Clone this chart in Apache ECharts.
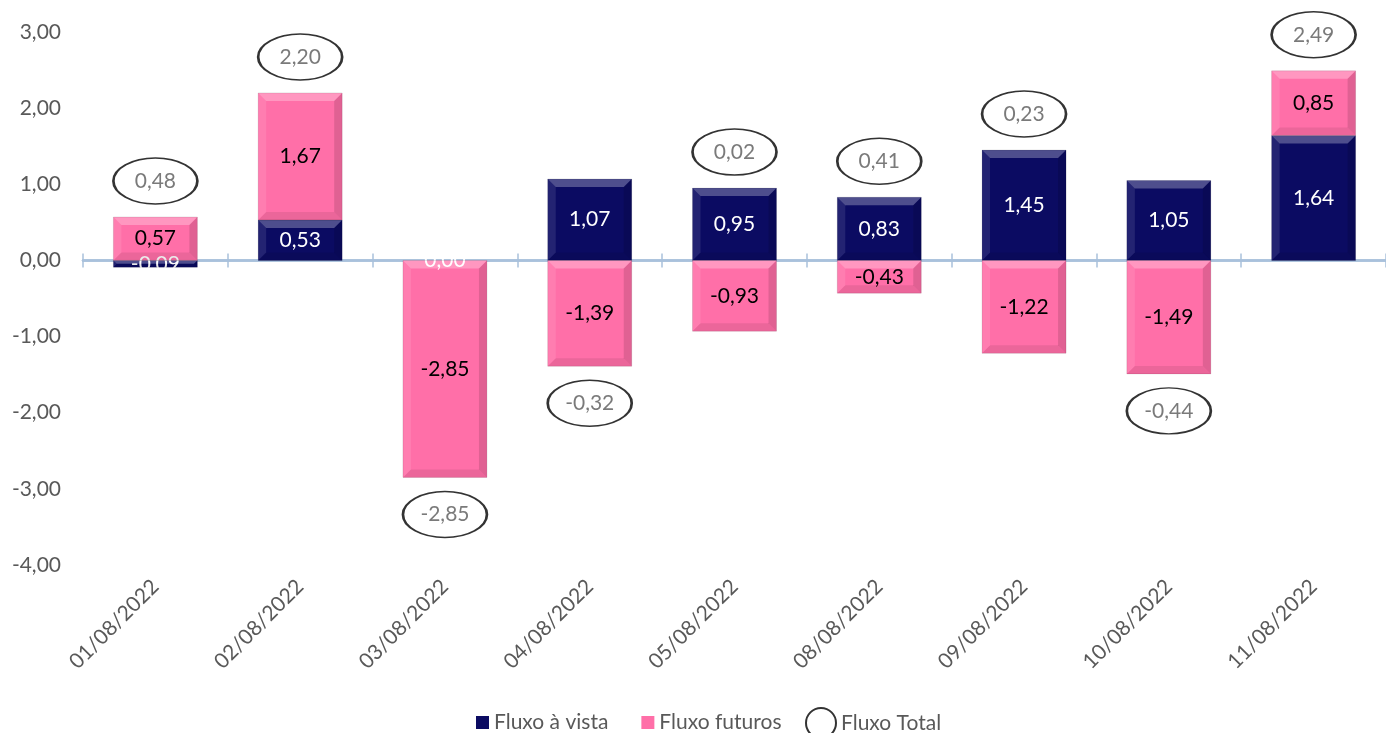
<!DOCTYPE html>
<html>
<head>
<meta charset="utf-8">
<script src="https://cdn.jsdelivr.net/npm/echarts@6/dist/echarts.min.js"></script>
<style>html,body{margin:0;padding:0;background:#fff}#c{width:1386px;height:733px}</style>
</head>
<body>
<div id="c"></div>
<script>
const categories = ['01/08/2022','02/08/2022','03/08/2022','04/08/2022','05/08/2022','08/08/2022','09/08/2022','10/08/2022','11/08/2022'];
const fluxoVista = [-0.09, 0.53, 0.00, 1.07, 0.95, 0.83, 1.45, 1.05, 1.64];
const fluxoFuturos = [0.57, 1.67, -2.85, -1.39, -0.93, -0.43, -1.22, -1.49, 0.85];
const fluxoTotal = [0.48, 2.20, -2.85, -0.32, 0.02, 0.41, 0.23, -0.44, 2.49];
const yTicks = {min: -4, max: 3, interval: 1};

const fmt = v => Number(v).toFixed(2).replace('.', ',');
const FONT = 'Lato';
const GREY = '#595959';
const BAR_W = 84;
const AXIS_BLUE = '#A9C1DC';

// anchor total labels at the end of the stack in the direction of the total
const totalData = fluxoTotal.map((t, i) => {
  const vals = [fluxoVista[i], fluxoFuturos[i]];
  const pos = vals.filter(v => v > 0).reduce((a, b) => a + b, 0);
  const neg = vals.filter(v => v < 0).reduce((a, b) => a + b, 0);
  const up = t >= 0;
  return { value: up ? pos : neg, total: t, symbolOffset: [0, up ? -36 : 37] };
});

// segments (category index, start, end) for bevel overlay, stacked same-sign
const bevelData = [];
categories.forEach((c, i) => {
  let p = 0, n = 0;
  [fluxoVista[i], fluxoFuturos[i]].forEach(v => {
    if (v > 0) { bevelData.push([i, p, p + v]); p += v; }
    else if (v < 0) { bevelData.push([i, n, n + v]); n += v; }
  });
});

function renderBevel(params, api) {
  const i = api.value(0);
  const a = api.coord([i, api.value(1)]);
  const b = api.coord([i, api.value(2)]);
  const x0 = a[0] - BAR_W / 2, x1 = a[0] + BAR_W / 2;
  const yt = Math.min(a[1], b[1]), yb = Math.max(a[1], b[1]);
  const h = yb - yt;
  const d = Math.min(8, h / 2);
  const poly = (pts, fill) => ({type: 'polygon', shape: {points: pts}, style: {fill: fill}, silent: true});
  return {
    type: 'group',
    children: [
      poly([[x0, yt], [x1, yt], [x1 - d, yt + d], [x0 + d, yt + d]], 'rgba(255,255,255,0.28)'),
      poly([[x0, yt], [x0 + d, yt + d], [x0 + d, yb - d], [x0, yb]], 'rgba(255,255,255,0.10)'),
      poly([[x1, yt], [x1, yb], [x1 - d, yb - d], [x1 - d, yt + d]], 'rgba(0,0,0,0.12)'),
      poly([[x0, yb], [x0 + d, yb - d], [x1 - d, yb - d], [x1, yb]], 'rgba(0,0,0,0.08)'),
      {type: 'rect', shape: {x: x0, y: yt, width: BAR_W, height: h},
       style: {fill: 'none', stroke: 'rgba(0,0,0,0.10)', lineWidth: 1}, silent: true}
    ]
  };
}

const gridBox = {left: 83, width: 1305, top: 32, bottom: 168, containLabel: false};

const chart = echarts.init(document.getElementById('c'));
chart.setOption({
  animation: false,
  textStyle: {fontFamily: FONT},
  grid: [Object.assign({}, gridBox), Object.assign({}, gridBox)],
  legend: [
    {
      data: [{name: 'Fluxo à vista', icon: 'rect'}, {name: 'Fluxo futuros', icon: 'rect'}],
      left: 471, top: 707, itemWidth: 13, itemHeight: 13, itemGap: 33,
      textStyle: {color: GREY, fontSize: 21, fontFamily: FONT}
    },
    {
      data: [{name: 'Fluxo Total', icon: 'circle'}],
      left: 800, top: 702, itemWidth: 30, itemHeight: 30, itemGap: 6,
      textStyle: {color: GREY, fontSize: 21, fontFamily: FONT}
    }
  ],
  xAxis: [
    {
      gridIndex: 0, type: 'category', data: categories, position: 'bottom',
      axisLine: {show: true, onZero: true, onZeroAxisIndex: 0, lineStyle: {color: AXIS_BLUE, width: 2.5}},
      axisTick: {show: true, length: 7, inside: false, lineStyle: {color: AXIS_BLUE, width: 1.5}},
      axisLabel: {show: false}
    },
    {
      gridIndex: 0, type: 'category', data: categories, position: 'top',
      axisLine: {show: true, onZero: true, onZeroAxisIndex: 2, lineStyle: {color: AXIS_BLUE, width: 2.5}},
      axisTick: {show: true, length: 7, inside: false, lineStyle: {color: AXIS_BLUE, width: 1.5}},
      axisLabel: {show: false}
    },
    {
      gridIndex: 1, type: 'category', data: categories, position: 'bottom',
      axisLine: {show: false, onZero: false}, axisTick: {show: false},
      axisLabel: {rotate: 45, color: GREY, fontSize: 21, margin: 18, interval: 0, fontFamily: FONT}
    }
  ],
  yAxis: [
    {
      gridIndex: 0, type: 'value', min: yTicks.min, max: yTicks.max, interval: yTicks.interval,
      axisLine: {show: false}, axisTick: {show: false}, splitLine: {show: false},
      axisLabel: {color: GREY, fontSize: 21, margin: 22, formatter: v => fmt(v), fontFamily: FONT}
    },
    {
      gridIndex: 1, type: 'value', min: yTicks.min, max: yTicks.max, interval: yTicks.interval, show: false
    },
    {
      gridIndex: 0, type: 'value', min: yTicks.min, max: yTicks.max, interval: yTicks.interval,
      axisLine: {show: false}, axisTick: {show: false}, splitLine: {show: false}, axisLabel: {show: false}
    }
  ],
  series: [
    {
      name: 'Fluxo à vista', type: 'bar', stack: 'f', barWidth: BAR_W, data: fluxoVista,
      xAxisIndex: 0, yAxisIndex: 0,
      itemStyle: {color: '#0b0b62'},
      label: {show: true, position: 'inside', color: '#fff', fontSize: 21, formatter: p => fmt(p.value), fontFamily: FONT},
      z: 2
    },
    {
      name: 'Fluxo futuros', type: 'bar', stack: 'f', barWidth: BAR_W, data: fluxoFuturos,
      xAxisIndex: 0, yAxisIndex: 0,
      itemStyle: {color: '#ff6fa8'},
      label: {show: true, position: 'inside', color: '#000', fontSize: 21, formatter: p => fmt(p.value), fontFamily: FONT},
      z: 2
    },
    {
      type: 'custom', data: bevelData, renderItem: renderBevel, silent: true, z: 3,
      xAxisIndex: 0, yAxisIndex: 0,
      encode: {x: 0, y: [1, 2]}
    },
    {
      name: 'Fluxo Total', type: 'scatter', data: totalData,
      xAxisIndex: 0, yAxisIndex: 0,
      symbol: 'circle', symbolSize: [84, 46],
      itemStyle: {color: '#fff', borderColor: '#000', borderWidth: 2},
      label: {show: true, position: 'inside', color: GREY, fontSize: 21, formatter: p => fmt(p.data.total), fontFamily: FONT},
      z: 5
    }
  ]
});
</script>
</body>
</html>
